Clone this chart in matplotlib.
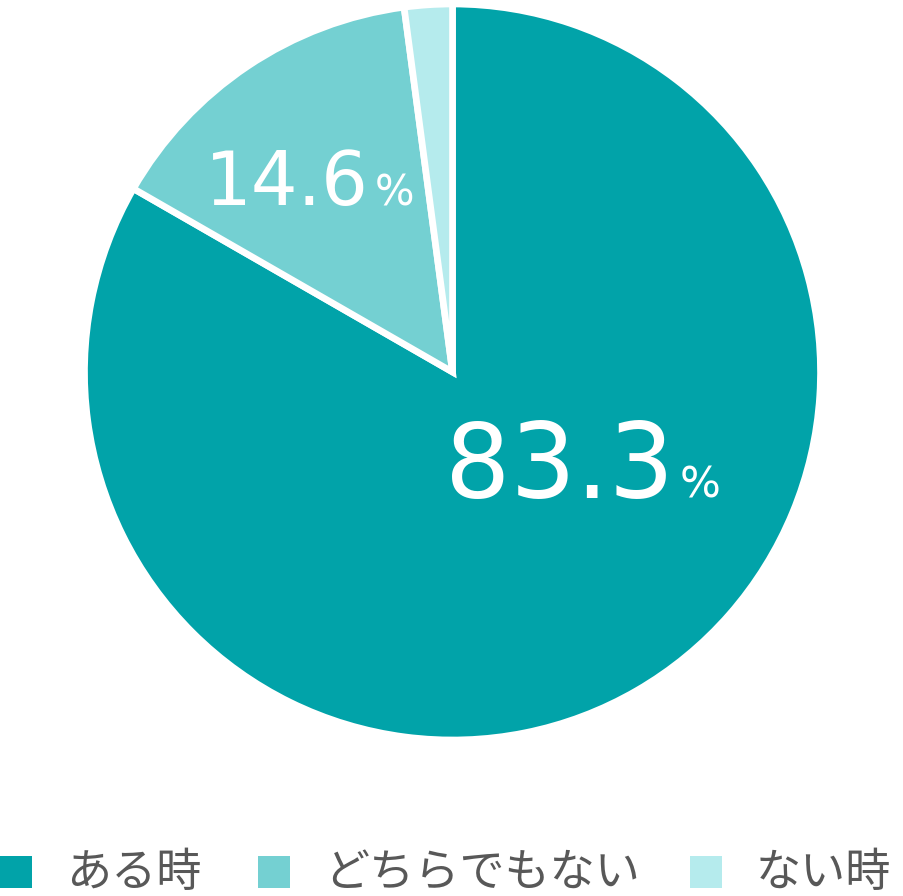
import numpy as np
import matplotlib.pyplot as plt
from matplotlib.patches import Rectangle

plt.rcParams['font.family'] = ['Noto Sans CJK JP', 'DejaVu Sans']

# ── data ──────────────────────────────────────────────────────────────────────
labels = ["ある時", "どちらでもない", "ない時"]
values = [83.3, 14.6, 2.1]
colors = ["#01a3a9", "#74d0d2", "#b5ebed"]
shown  = ["83.3", "14.6", None]

# ── figure in pixel coordinates (y grows downward) ────────────────────────────
fig = plt.figure(figsize=(9.04, 8.96), dpi=100)
ax  = fig.add_axes([0, 0, 1, 1])

cx, cy, r = 452.5, 372, 368
# y axis is inverted, so start at -90 and go counterclock in data space
# -> visually starts at 12 o'clock and runs clockwise
ax.pie(values, colors=colors, startangle=-90, counterclock=True,
       center=(cx, cy), radius=r, frame=True,
       wedgeprops=dict(edgecolor="white", linewidth=4.8))
ax.set_xlim(0, 904)
ax.set_ylim(896, 0)
ax.axis("off")

# value labels (number + small percent sign)
num_font = ["DejaVu Sans"]
lab_pos = {0: (674, 498, 74, 31), 1: (369, 205, 53, 30)}
for i, (x, y, fs, fs2) in lab_pos.items():
    ax.text(x, y, shown[i], color="white", fontsize=fs, ha="right",
            va="baseline", family=num_font)
    ax.text(x + 6, y, "%", color="white", fontsize=fs2, ha="left",
            va="baseline", family=num_font)

# legend
leg_x = [0, 258, 690]
for lx, lab, col in zip(leg_x, labels, colors):
    ax.add_patch(Rectangle((lx, 856), 32, 32, color=col, lw=0))
    ax.text(lx + 66, 886, lab, color="#585858", fontsize=32.5,
            ha="left", va="baseline")

fig.savefig("out.png", dpi=100)
